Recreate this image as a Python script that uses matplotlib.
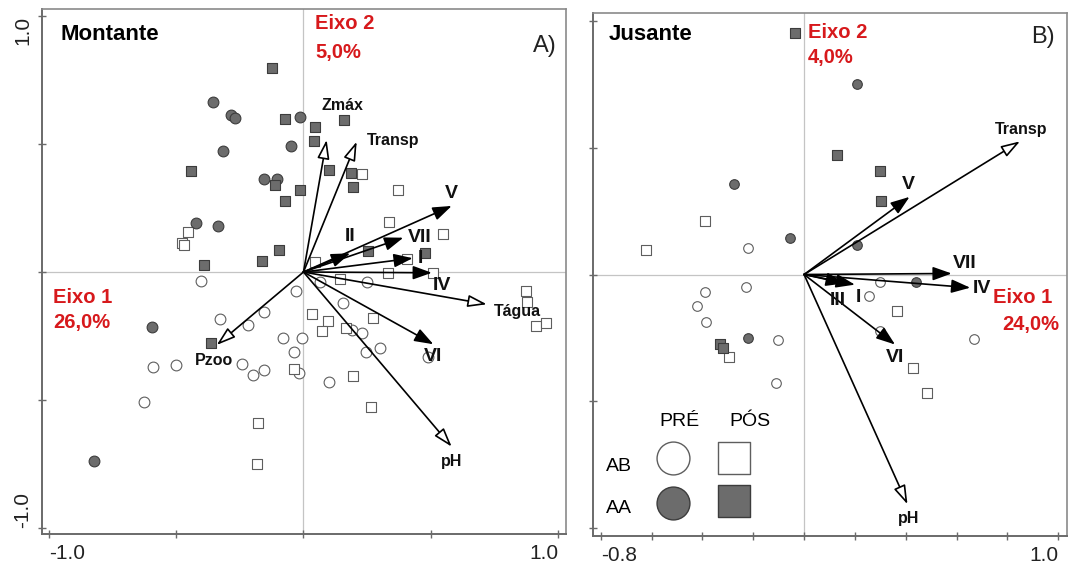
import matplotlib
matplotlib.use("Agg")
import matplotlib.pyplot as plt
from matplotlib.patches import ArrowStyle

plt.rcParams['font.family'] = ['Liberation Sans', 'DejaVu Sans']

# ---------------- Montante (A): sample scores ----------------
mont_pre_ab_x = [-0.403, -0.029, 0.065, 0.248, 0.156, 0.192, 0.231, -0.005, 0.301, 0.246, -0.037, 0.490,
                 -0.018, 0.100, -0.327, -0.154, -0.217, -0.082, -0.590, -0.501, -0.243, -0.200, -0.154, -0.627]
mont_pre_ab_y = [-0.035, -0.074, -0.040, -0.039, -0.122, -0.228, -0.239, -0.259, -0.296, -0.311, -0.311, -0.331,
                 -0.396, -0.429, -0.184, -0.155, -0.207, -0.259, -0.370, -0.363, -0.361, -0.402, -0.382, -0.509]

mont_pre_aa_x = [-0.357, -0.285, -0.269, -0.013, -0.315, -0.050, -0.155, -0.104, -0.421, -0.335, -0.595, -0.824]
mont_pre_aa_y = [0.663, 0.612, 0.603, 0.607, 0.473, 0.491, 0.362, 0.364, 0.190, 0.180, -0.216, -0.738]

mont_pos_ab_x = [-0.454, -0.479, -0.468, 0.230, 0.370, 0.335, 0.548, 0.408, 0.045, 0.331, 0.510, 0.145, 0.873,
                 0.877, 0.914, 0.952, 0.032, 0.274, 0.097, 0.074, 0.166, -0.037, 0.196, 0.265, -0.179, -0.182]
mont_pos_ab_y = [0.156, 0.114, 0.105, 0.382, 0.319, 0.196, 0.147, 0.051, 0.040, -0.005, -0.005, -0.029, -0.076,
                 -0.116, -0.211, -0.200, -0.165, -0.181, -0.191, -0.230, -0.218, -0.379, -0.406, -0.526, -0.589, -0.751]

mont_pos_aa_x = [-0.123, -0.072, 0.046, 0.042, 0.160, -0.442, -0.112, -0.014, -0.074, 0.101, 0.185, 0.196,
                 -0.097, -0.164, -0.391, 0.255, 0.479, -0.365]
mont_pos_aa_y = [0.796, 0.598, 0.566, 0.512, 0.594, 0.395, 0.339, 0.320, 0.279, 0.400, 0.386, 0.333,
                 0.085, 0.044, 0.026, 0.082, 0.073, -0.276]

# Montante: environmental variables and species groups
mont_env_names = ['Zmáx', 'Transp', 'Tágua', 'pH', 'Pzoo']
mont_env_x = [0.091, 0.209, 0.720, 0.582, -0.341]
mont_env_y = [0.516, 0.509, -0.126, -0.682, -0.285]

mont_sp_names = ['V', 'VII', 'II', 'I', 'IV', 'VI']
mont_sp_x = [0.582, 0.392, 0.183, 0.429, 0.504, 0.510]
mont_sp_y = [0.258, 0.134, 0.073, 0.054, -0.003, -0.282]

# ---------------- Jusante (B): sample scores ----------------
jus_pre_ab_x = [-0.219, -0.230, -0.392, -0.420, -0.386, -0.102, -0.109, 0.297, 0.255, 0.299, 0.670]
jus_pre_ab_y = [0.105, -0.048, -0.068, -0.125, -0.186, -0.259, -0.428, -0.030, -0.085, -0.223, -0.256]

jus_pre_aa_x = [-0.276, -0.055, 0.207, 0.210, -0.222, 0.440]
jus_pre_aa_y = [0.357, 0.144, 0.751, 0.118, -0.249, -0.030]

jus_pos_ab_x = [-0.389, -0.623, -0.296, 0.365, 0.428, 0.485]
jus_pos_ab_y = [0.210, 0.098, -0.327, -0.142, -0.370, -0.469]

jus_pos_aa_x = [-0.035, 0.131, 0.299, 0.303, -0.331, -0.320]
jus_pos_aa_y = [0.951, 0.470, 0.407, 0.291, -0.274, -0.289]

jus_env_names = ['Transp', 'pH']
jus_env_x = [0.850, 0.407]
jus_env_y = [0.525, -0.906]

jus_sp_names = ['V', 'VII', 'IV', 'III', 'I', 'VI']
jus_sp_x = [0.415, 0.581, 0.654, 0.160, 0.200, 0.358]
jus_sp_y = [0.306, 0.004, -0.052, -0.035, -0.040, -0.276]

# ---------------- label placement (offsets in points from arrow tips) ----------------
mont_env_off = {'Zmáx': (11, 25), 'Transp': (26, 1), 'Tágua': (22, -5), 'pH': (0, -11), 'Pzoo': (-2, -11.5)}
mont_sp_off = {'V': (-0.5, 9), 'VII': (11.5, 0), 'II': (0, 12), 'I': (5.5, 0), 'IV': (7, -9.5), 'VI': (0, -9)}
jus_env_off = {'Transp': (1, 8.5), 'pH': (0.5, -10.5)}
jus_sp_off = {'V': (-0.5, 9), 'VII': (9.5, 7.5), 'IV': (8.5, -0.5), 'III': (-5, -12), 'I': (2.5, -9), 'VI': (0, -9.5)}

FILL = '#6c6c6c'
FILL_EDGE = '#3c3c3c'
OPEN_EDGE = '#5e5e5e'
RED = '#d7191c'

fig = plt.figure(figsize=(10.71, 5.69), dpi=100)
axA = fig.add_axes([42 / 1071, 1 - 534 / 569, 524 / 1071, 525 / 569])
axB = fig.add_axes([593 / 1071, 1 - 536 / 569, 474 / 1071, 523 / 569])


def draw_scores(ax, groups, size):
    for x, y, marker, filled in groups:
        if filled:
            ax.scatter(x, y, s=size, marker=marker, facecolor=FILL, edgecolor=FILL_EDGE,
                       linewidths=0.8, zorder=3)
        else:
            ax.scatter(x, y, s=size, marker=marker, facecolor='white', edgecolor=OPEN_EDGE,
                       linewidths=0.8, zorder=3)


def draw_vectors(ax, names, xs, ys, offsets, filled, fontsize):
    style = ArrowStyle('-|>', head_length=1.0, head_width=0.36) if filled else \
        ArrowStyle('-|>', head_length=1.0, head_width=0.32)
    for name, x, y in zip(names, xs, ys):
        ax.annotate('', xy=(x, y), xytext=(0, 0),
                    arrowprops=dict(arrowstyle=style, mutation_scale=11.5, lw=1.2,
                                    fc='black' if filled else 'white', ec='black',
                                    shrinkA=0, shrinkB=0), zorder=4)
        dx, dy = offsets[name]
        ax.annotate(name, xy=(x, y), xytext=(dx, dy), textcoords='offset points',
                    ha='center', va='center', fontsize=fontsize, fontweight='bold',
                    color='#111111', zorder=5)


def style_axes(ax, xlim, ylim, xticks, xlabels, yticks, ylabels):
    ax.set_xlim(*xlim)
    ax.set_ylim(*ylim)
    ax.axhline(0, color='#c4c4c4', lw=0.9, zorder=1)
    ax.axvline(0, color='#c4c4c4', lw=0.9, zorder=1)
    for side in ['left', 'bottom']:
        ax.spines[side].set_color('#6a6a6a')
        ax.spines[side].set_linewidth(1.4)
    for side in ['top', 'right']:
        ax.spines[side].set_color('#8a8a8a')
        ax.spines[side].set_linewidth(1.2)
    ax.set_xticks(xticks)
    ax.set_xticklabels(xlabels)
    ax.set_yticks(yticks)
    ax.set_yticklabels(ylabels, rotation=90)
    ax.tick_params(direction='inout', length=6, width=1, color='#6a6a6a',
                   labelsize=15, labelcolor='#222222', pad=4)
    xl = ax.get_xticklabels()
    xl[0].set_ha('left')
    xl[-1].set_ha('right')
    yl = ax.get_yticklabels()
    yl[0].set_va('bottom')
    yl[-1].set_va('top')


# ---------------- Panel A: Montante ----------------
draw_scores(axA, [
    (mont_pre_ab_x, mont_pre_ab_y, 'o', False),
    (mont_pos_ab_x, mont_pos_ab_y, 's', False),
    (mont_pre_aa_x, mont_pre_aa_y, 'o', True),
    (mont_pos_aa_x, mont_pos_aa_y, 's', True),
], size=60)
draw_vectors(axA, mont_env_names, mont_env_x, mont_env_y, mont_env_off, False, 11.5)
draw_vectors(axA, mont_sp_names, mont_sp_x, mont_sp_y, mont_sp_off, True, 14)
style_axes(axA, (-1.027, 1.031), (-1.023, 1.027),
           [-1.0, -0.5, 0, 0.5, 1.0], ['-1.0', '', '', '', '1.0'],
           [-1.0, -0.5, 0, 0.5, 1.0], ['-1.0', '', '', '', '1.0'])

axA.text(-0.953, 0.926, 'Montante', fontsize=16, fontweight='bold', ha='left', va='center')
axA.text(0.045, 0.969, 'Eixo 2', fontsize=14.5, fontweight='bold', color=RED, ha='left', va='center')
axA.text(0.045, 0.859, '5,0%', fontsize=14.5, fontweight='bold', color=RED, ha='left', va='center')
axA.text(-0.984, -0.098, 'Eixo 1', fontsize=14.5, fontweight='bold', color=RED, ha='left', va='center')
axA.text(-0.984, -0.199, '26,0%', fontsize=14.5, fontweight='bold', color=RED, ha='left', va='center')
axA.text(0.949, 0.883, 'A)', fontsize=17, ha='center', va='center', color='#222222')

# ---------------- Panel B: Jusante ----------------
draw_scores(axB, [
    (jus_pre_ab_x, jus_pre_ab_y, 'o', False),
    (jus_pos_ab_x, jus_pos_ab_y, 's', False),
    (jus_pre_aa_x, jus_pre_aa_y, 'o', True),
    (jus_pos_aa_x, jus_pos_aa_y, 's', True),
], size=48)
draw_vectors(axB, jus_env_names, jus_env_x, jus_env_y, jus_env_off, False, 11.5)
draw_vectors(axB, jus_sp_names, jus_sp_x, jus_sp_y, jus_sp_off, True, 14)
style_axes(axB, (-0.831, 1.035), (-1.031, 1.031),
           [-0.8, -0.6, -0.4, -0.2, 0, 0.2, 0.4, 0.6, 0.8, 1.0],
           ['-0.8', '', '', '', '', '', '', '', '', '1.0'],
           [-1.0, -0.5, 0, 0.5, 1.0], ['', '', '', '', ''])

axB.text(-0.768, 0.945, 'Jusante', fontsize=16, fontweight='bold', ha='left', va='center')
axB.text(0.016, 0.953, 'Eixo 2', fontsize=14.5, fontweight='bold', color=RED, ha='left', va='center')
axB.text(0.016, 0.854, '4,0%', fontsize=14.5, fontweight='bold', color=RED, ha='left', va='center')
axB.text(0.860, -0.091, 'Eixo 1', fontsize=14.5, fontweight='bold', color=RED, ha='center', va='center')
axB.text(0.892, -0.197, '24,0%', fontsize=14.5, fontweight='bold', color=RED, ha='center', va='center')
axB.text(0.941, 0.937, 'B)', fontsize=17, ha='center', va='center', color='#222222')

# ---------------- Key: period (PRÉ / PÓS) x site (AB / AA) ----------------
tr = axB.transAxes
axB.text(0.182, 0.219, 'PRÉ', transform=tr, fontsize=14, ha='center', va='center')
axB.text(0.331, 0.219, 'PÓS', transform=tr, fontsize=14, ha='center', va='center')
axB.text(0.055, 0.133, 'AB', transform=tr, fontsize=14, ha='center', va='center')
axB.text(0.055, 0.053, 'AA', transform=tr, fontsize=14, ha='center', va='center')
axB.scatter([0.169], [0.149], s=560, marker='o', facecolor='white', edgecolor=OPEN_EDGE,
            linewidths=1.0, transform=tr, zorder=3)
axB.scatter([0.297], [0.149], s=520, marker='s', facecolor='white', edgecolor=OPEN_EDGE,
            linewidths=1.0, transform=tr, zorder=3)
axB.scatter([0.169], [0.064], s=560, marker='o', facecolor=FILL, edgecolor=FILL_EDGE,
            linewidths=1.0, transform=tr, zorder=3)
axB.scatter([0.297], [0.066], s=520, marker='s', facecolor=FILL, edgecolor=FILL_EDGE,
            linewidths=1.0, transform=tr, zorder=3)

fig.savefig('out.png', dpi=100)
